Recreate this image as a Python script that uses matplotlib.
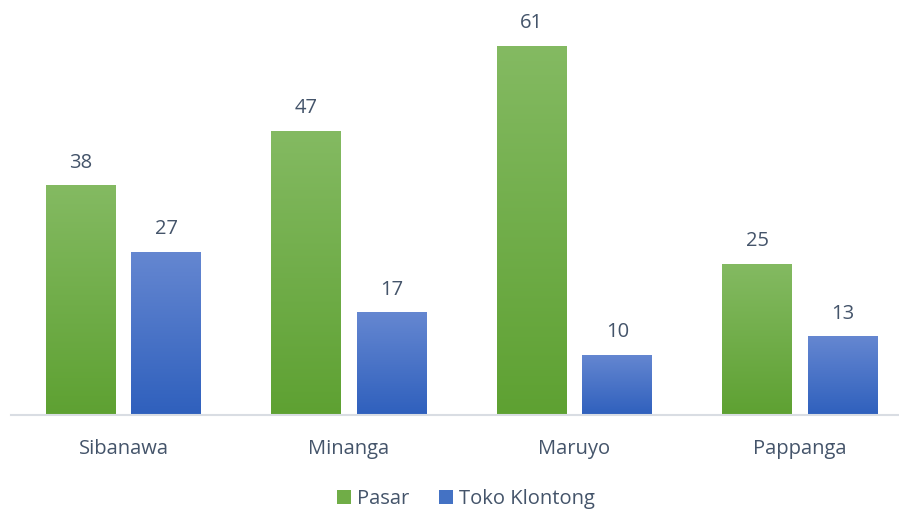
import numpy as np
import matplotlib
matplotlib.use("Agg")
import matplotlib.pyplot as plt
from matplotlib.colors import LinearSegmentedColormap
from matplotlib.patches import Patch

categories = ["Sibanawa", "Minanga", "Maruyo", "Pappanga"]
pasar = [38, 47, 61, 25]
toko = [27, 17, 10, 13]
series_names = ["Pasar", "Toko Klontong"]

W, H = 899, 514
fig = plt.figure(figsize=(W / 100, H / 100), dpi=100)
plt.rcParams['font.family'] = ['Open Sans', 'DejaVu Sans']
text_color = "#44546A"
fs = 14.5

x0, x1 = 10.75, 912.75
ybase = 415
ppu = 6.05
ymax = 66
ax = fig.add_axes([x0 / W, (H - ybase) / H, (x1 - x0) / W, ymax * ppu / H])
ax.set_xlim(-0.5, len(categories) - 0.5)
ax.set_ylim(0, ymax)

x = np.arange(len(categories))
bw = 0.31
off = 0.19
b1 = ax.bar(x - off, pasar, bw, color="#70AD47", label=series_names[0])
b2 = ax.bar(x + off, toko, bw, color="#4472C4", label=series_names[1])

cm_g = LinearSegmentedColormap.from_list("g", ["#5EA132", "#84BA62"])
cm_b = LinearSegmentedColormap.from_list("b", ["#2F60BD", "#6587D1"])
grad = np.linspace(0, 1, 256).reshape(-1, 1)
for bars, cm in ((b1, cm_g), (b2, cm_b)):
    for p in bars:
        bx, by = p.get_x(), p.get_y()
        bwid, bh = p.get_width(), p.get_height()
        im = ax.imshow(grad, cmap=cm, aspect="auto", origin="lower",
                       extent=[bx, bx + bwid, by, by + bh], zorder=2)
        im.set_clip_path(p)
        p.set_facecolor("none")
ax.set_xlim(-0.5, len(categories) - 0.5)
ax.set_ylim(0, ymax)

for bars, vals in ((b1, pasar), (b2, toko)):
    for p, v in zip(bars, vals):
        ax.annotate(str(v), (p.get_x() + p.get_width() / 2, v),
                    xytext=(0, 9), textcoords="offset points",
                    ha="center", va="bottom", fontsize=fs, color=text_color)

for s in ["top", "right", "left"]:
    ax.spines[s].set_visible(False)
ax.spines["bottom"].set_color("#D9DDE3")
ax.spines["bottom"].set_linewidth(1.5)
ax.set_yticks([])
ax.set_xticks(x)
ax.set_xticklabels(categories, fontsize=fs, color=text_color)
ax.tick_params(axis="x", length=0, pad=17)

handles = [Patch(facecolor="#70AD47"), Patch(facecolor="#4472C4")]
fig.legend(handles, series_names, loc="center", bbox_to_anchor=(466 / W, 1 - 499 / H),
           ncol=2, frameon=False, fontsize=fs, handlelength=0.7, handleheight=0.7,
           handletextpad=0.3, columnspacing=1.5, labelcolor=text_color)

fig.savefig("out.png", dpi=100)
